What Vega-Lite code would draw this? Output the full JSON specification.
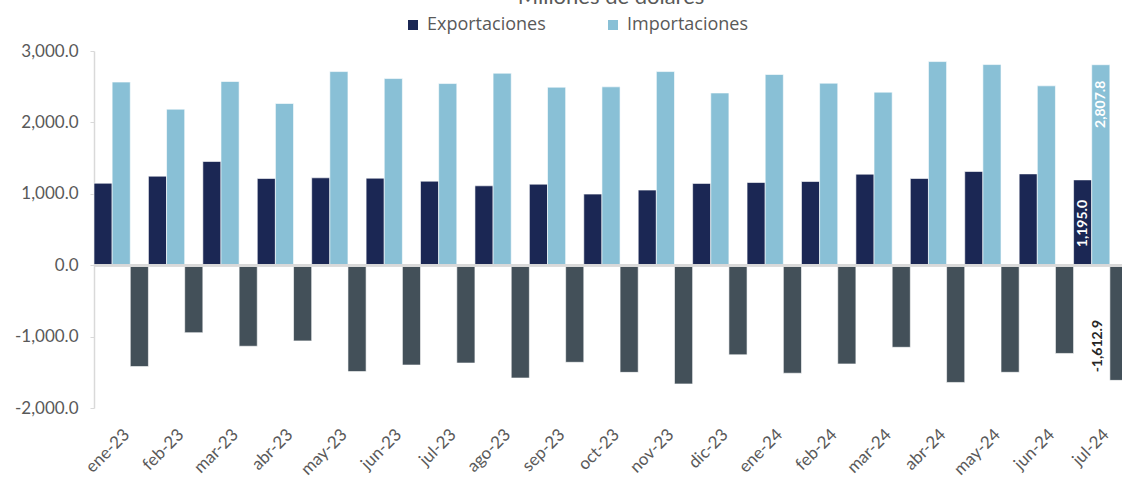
{
  "$schema": "https://vega.github.io/schema/vega-lite/v6.json",
  "autosize": "none",
  "padding": {"left": 94, "top": 51, "right": 0, "bottom": 73},
  "width": 1034,
  "height": 357,
  "title": {"text": "Millones de dólares", "font": "Lato", "fontSize": 22, "fontWeight": "normal", "color": "#595959", "anchor": "middle", "offset": 12, "dy": 5},
  "config": {"view": {"stroke": null}, "font": "Lato"},
  "data": {"values": [
    {"mes": "ene-23", "serie": "Exportaciones", "valor": 1148},
    {"mes": "ene-23", "serie": "Importaciones", "valor": 2565},
    {"mes": "ene-23", "serie": "Balanza", "valor": -1420},
    {"mes": "feb-23", "serie": "Exportaciones", "valor": 1247},
    {"mes": "feb-23", "serie": "Importaciones", "valor": 2185},
    {"mes": "feb-23", "serie": "Balanza", "valor": -945},
    {"mes": "mar-23", "serie": "Exportaciones", "valor": 1452},
    {"mes": "mar-23", "serie": "Importaciones", "valor": 2573},
    {"mes": "mar-23", "serie": "Balanza", "valor": -1135},
    {"mes": "abr-23", "serie": "Exportaciones", "valor": 1214},
    {"mes": "abr-23", "serie": "Importaciones", "valor": 2265},
    {"mes": "abr-23", "serie": "Balanza", "valor": -1060},
    {"mes": "may-23", "serie": "Exportaciones", "valor": 1224},
    {"mes": "may-23", "serie": "Importaciones", "valor": 2712},
    {"mes": "may-23", "serie": "Balanza", "valor": -1490},
    {"mes": "jun-23", "serie": "Exportaciones", "valor": 1219},
    {"mes": "jun-23", "serie": "Importaciones", "valor": 2614},
    {"mes": "jun-23", "serie": "Balanza", "valor": -1398},
    {"mes": "jul-23", "serie": "Exportaciones", "valor": 1177},
    {"mes": "jul-23", "serie": "Importaciones", "valor": 2544},
    {"mes": "jul-23", "serie": "Balanza", "valor": -1370},
    {"mes": "ago-23", "serie": "Exportaciones", "valor": 1112},
    {"mes": "ago-23", "serie": "Importaciones", "valor": 2689},
    {"mes": "ago-23", "serie": "Balanza", "valor": -1580},
    {"mes": "sep-23", "serie": "Exportaciones", "valor": 1135},
    {"mes": "sep-23", "serie": "Importaciones", "valor": 2493},
    {"mes": "sep-23", "serie": "Balanza", "valor": -1360},
    {"mes": "oct-23", "serie": "Exportaciones", "valor": 996},
    {"mes": "oct-23", "serie": "Importaciones", "valor": 2498},
    {"mes": "oct-23", "serie": "Balanza", "valor": -1501},
    {"mes": "nov-23", "serie": "Exportaciones", "valor": 1052},
    {"mes": "nov-23", "serie": "Importaciones", "valor": 2712},
    {"mes": "nov-23", "serie": "Balanza", "valor": -1663},
    {"mes": "dic-23", "serie": "Exportaciones", "valor": 1146},
    {"mes": "dic-23", "serie": "Importaciones", "valor": 2412},
    {"mes": "dic-23", "serie": "Balanza", "valor": -1255},
    {"mes": "ene-24", "serie": "Exportaciones", "valor": 1158},
    {"mes": "ene-24", "serie": "Importaciones", "valor": 2671},
    {"mes": "ene-24", "serie": "Balanza", "valor": -1513},
    {"mes": "feb-24", "serie": "Exportaciones", "valor": 1172},
    {"mes": "feb-24", "serie": "Importaciones", "valor": 2549},
    {"mes": "feb-24", "serie": "Balanza", "valor": -1383},
    {"mes": "mar-24", "serie": "Exportaciones", "valor": 1275},
    {"mes": "mar-24", "serie": "Importaciones", "valor": 2424},
    {"mes": "mar-24", "serie": "Balanza", "valor": -1150},
    {"mes": "abr-24", "serie": "Exportaciones", "valor": 1214},
    {"mes": "abr-24", "serie": "Importaciones", "valor": 2852},
    {"mes": "abr-24", "serie": "Balanza", "valor": -1642},
    {"mes": "may-24", "serie": "Exportaciones", "valor": 1312},
    {"mes": "may-24", "serie": "Importaciones", "valor": 2810},
    {"mes": "may-24", "serie": "Balanza", "valor": -1500},
    {"mes": "jun-24", "serie": "Exportaciones", "valor": 1279},
    {"mes": "jun-24", "serie": "Importaciones", "valor": 2512},
    {"mes": "jun-24", "serie": "Balanza", "valor": -1236},
    {"mes": "jul-24", "serie": "Exportaciones", "valor": 1195.0},
    {"mes": "jul-24", "serie": "Importaciones", "valor": 2807.8},
    {"mes": "jul-24", "serie": "Balanza", "valor": -1612.9}
  ]},
  "encoding": {
    "x": {"field": "mes", "type": "nominal", "sort": null, "title": null,
      "scale": {"paddingInner": 0, "paddingOuter": 0},
      "axis": {"domain": false, "ticks": false, "labelAngle": -45, "labelFont": "Lato", "labelFontSize": 17, "labelColor": "#595959", "labelPadding": 18}},
    "xOffset": {"field": "serie", "type": "nominal", "sort": ["Exportaciones", "Importaciones", "Balanza"], "scale": {"paddingInner": 0, "paddingOuter": 0}},
    "y": {"field": "valor", "type": "quantitative", "title": null,
      "scale": {"domain": [-2000, 3000], "nice": false, "zero": false},
      "axis": {"values": [-2000, -1000, 0, 1000, 2000, 3000], "labelExpr": "replace(format(datum.value, ',.1f'), '\u2212', '-')", "grid": false, "domainColor": "#d9d9d9", "domainWidth": 1.5, "tickColor": "#d9d9d9", "tickSize": 4, "labelFont": "Lato", "labelFontSize": 17, "labelColor": "#595959", "labelPadding": 12}}
  },
  "layer": [
    {
      "mark": {"type": "bar", "stroke": "#ffffff", "strokeOpacity": 0.6, "strokeWidth": 1},
      "encoding": {
        "color": {"field": "serie", "type": "nominal",
          "scale": {"domain": ["Exportaciones", "Importaciones", "Balanza"], "range": ["#1b2754", "#89c0d6", "#435059"]},
          "legend": {"values": ["Exportaciones", "Importaciones"], "title": null, "orient": "none", "direction": "horizontal", "legendX": 310, "legendY": -35, "symbolType": "square", "symbolSize": 100, "symbolStrokeWidth": 0, "labelFont": "Open Sans", "labelFontSize": 18, "labelColor": "#595959", "columnPadding": 58, "labelOffset": 5}}
      }
    },
    {
      "mark": {"type": "rule", "color": "#d9d9d9", "strokeWidth": 2},
      "encoding": {"y": {"datum": 0}, "x": null, "xOffset": null}
    },
    {
      "transform": [{"filter": "datum.mes === 'jul-24' && datum.serie === 'Exportaciones'"}, {"calculate": "replace(format(datum.valor, ',.1f'), '\u2212', '-')", "as": "etiqueta"}],
      "mark": {"type": "text", "angle": 270, "align": "left", "baseline": "middle", "dx": 18, "color": "#ffffff", "font": "Lato", "fontWeight": "bold", "fontSize": 14},
      "encoding": {"y": {"datum": 0}, "text": {"field": "etiqueta", "type": "nominal"}}
    },
    {
      "transform": [{"filter": "datum.mes === 'jul-24' && datum.serie === 'Importaciones'"}, {"calculate": "replace(format(datum.valor, ',.1f'), '\u2212', '-')", "as": "etiqueta"}],
      "mark": {"type": "text", "angle": 270, "align": "right", "baseline": "middle", "dx": -16, "color": "#ffffff", "font": "Lato", "fontWeight": "bold", "fontSize": 14},
      "encoding": {"text": {"field": "etiqueta", "type": "nominal"}}
    },
    {
      "transform": [{"filter": "datum.mes === 'jul-24' && datum.serie === 'Balanza'"}, {"calculate": "replace(format(datum.valor, ',.1f'), '\u2212', '-')", "as": "etiqueta"}],
      "mark": {"type": "text", "angle": 270, "align": "left", "baseline": "middle", "dx": 8, "dy": -21, "color": "#262626", "font": "Lato", "fontWeight": "bold", "fontSize": 14},
      "encoding": {"text": {"field": "etiqueta", "type": "nominal"}}
    }
  ]
}
